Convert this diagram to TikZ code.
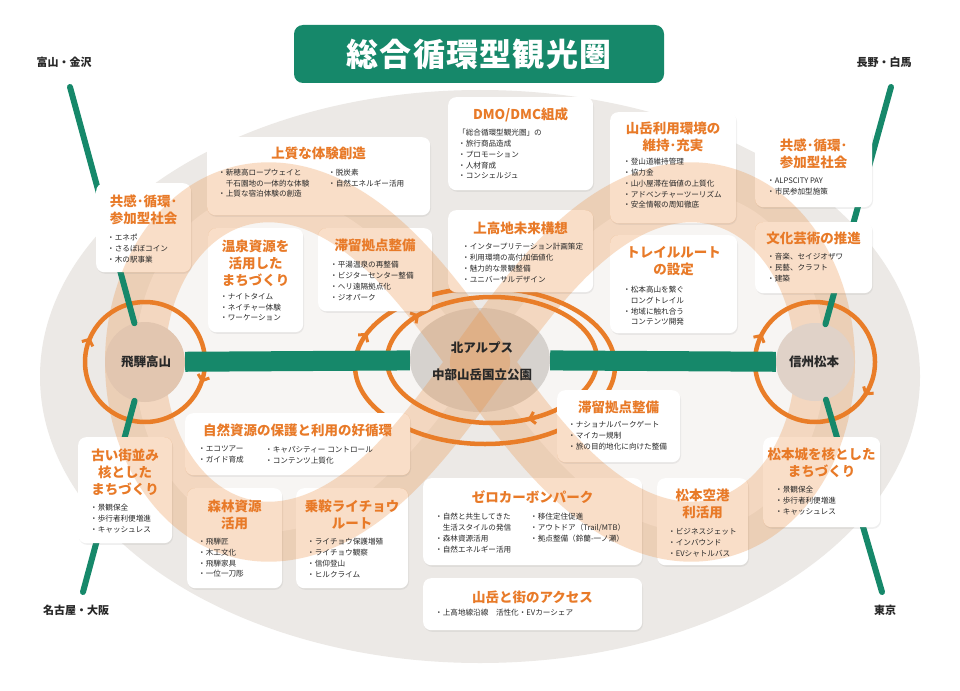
\documentclass[tikz,border=0pt]{standalone}
\usepackage{fontspec}
\setmainfont{Noto Sans CJK JP}
\usetikzlibrary{shapes.geometric,arrows.meta,shadows}
\definecolor{bggray}{RGB}{236,233,230}
\definecolor{innerc}{RGB}{247,245,243}
\definecolor{orng}{RGB}{233,125,40}
\definecolor{bandc}{RGB}{235,140,60}
\definecolor{ttl}{RGB}{232,122,40}
\definecolor{grn}{RGB}{22,136,106}
\definecolor{txt}{RGB}{40,40,40}
\definecolor{diskL}{RGB}{226,198,176}
\definecolor{diskR}{RGB}{224,210,200}
\definecolor{diskC}{RGB}{214,210,206}
\newcommand{\infobox}[5]{\node[infobox, minimum width={#4-#2}, minimum height={#5-#3}] (#1) at (#2,#3) {};}
\newcommand{\btxt}[4]{\node[body] (#1) at (#2,#3) {#4};}
\newcommand{\ttxt}[4]{\node[ttlnode] (#1) at (#2,#3) {#4};}
\newcommand{\boxclip}[1]{(#1.north west) rectangle (#1.south east)}
\begin{document}
\begin{tikzpicture}[x=1pt,y=-1pt,
  declare function={lx(\t)=480+345*cos(\t)/(1+sin(\t)*sin(\t)); ly(\t)=362+480*sin(\t)*cos(\t)/(1+sin(\t)*sin(\t));},
  infobox/.style={draw=none, fill=white, rounded corners=8pt, inner sep=0pt, anchor=north west,
    drop shadow={opacity=0.12, shadow xshift=0.8pt, shadow yshift=-1.6pt}},
  ttlnode/.style={text=ttl, font=\fontsize{13.5}{17}\selectfont\bfseries, align=center, inner sep=0pt},
  body/.style={text=txt, font=\fontsize{7.6}{10.8}\selectfont, align=left, inner sep=0pt, anchor=north west},
  place/.style={text=txt, font=\fontsize{11}{13}\selectfont\bfseries, inner sep=0pt},
  hub/.style={text=txt, font=\fontsize{12.5}{14}\selectfont\bfseries, inner sep=0pt},
  bandline/.style={draw=bandc, line width=60pt, draw opacity=0.28, line join=round},
  ring/.style={draw=orng, line width=4.5pt},
  ringarr/.style={draw=orng, line width=3pt, -{Straight Barb[length=5pt,width=12pt]}},
  gline/.style={draw=grn, line width=6pt, line cap=round},
  gbar/.style={draw=grn, line width=20pt}
]
\useasboundingbox (0,0) rectangle (960,690);
\fill[white] (0,0) rectangle (960,690);
% background
\fill[bggray] (480,376.5) ellipse[x radius=440, y radius=286.5];
\fill[innerc] plot[domain=-90:270, samples=361, smooth] ({lx(\x)},{ly(\x)}) -- cycle;
% centre disk
\node[ellipse, fill=diskC, minimum width=140, minimum height=104, inner sep=0pt] (alps) at (480,360) {};
% band (figure eight)
\draw[bandline] plot[domain=-90:90, samples=181, smooth] ({lx(\x)},{ly(\x)}) -- cycle;
\draw[bandline] plot[domain=90:270, samples=181, smooth] ({lx(\x)},{ly(\x)}) -- cycle;
% side disks
\node[circle, fill=diskL, minimum size=80, inner sep=0pt] (hida) at (145,362) {};
\node[circle, fill=diskR, minimum size=78, inner sep=0pt] (shinshu) at (815,362) {};
% rings
\draw[ring] (hida.center) circle[radius=60];
\draw[ringarr] (hida.center) ++(186:60) arc[start angle=186, end angle=204, radius=60];
\draw[ringarr] (hida.center) ++(2:60) arc[start angle=2, end angle=20, radius=60];
\draw[ring] (shinshu.center) circle[radius=60];
\draw[ringarr] (shinshu.center) ++(190:60) arc[start angle=190, end angle=208, radius=60];
\draw[ringarr] (shinshu.center) ++(16:60) arc[start angle=16, end angle=34, radius=60];
\coordinate (cin) at (492,360);
\coordinate (cout) at (485,366);
\draw[ring] (cin) ellipse[x radius=105, y radius=63];
\draw[ring] (cout) ellipse[x radius=130, y radius=78];
\draw[ringarr] (cin) ++(208:105 and 63) arc[start angle=208, end angle=226, x radius=105, y radius=63];
\draw[ringarr] (cin) ++(52:105 and 63) arc[start angle=52, end angle=70, x radius=105, y radius=63];
\draw[ringarr] (cout) ++(190:130 and 78) arc[start angle=190, end angle=205, x radius=130, y radius=78];
% green lines
\coordinate (tlEnd) at (70,87);
\coordinate (trEnd) at (891,87);
\coordinate (blEnd) at (83,592);
\coordinate (brEnd) at (882,592);
\draw[gline] (tlEnd) -- (hida);
\draw[gline] (blEnd) -- (hida);
\draw[gline] (trEnd) -- (shinshu);
\draw[gline] (brEnd) -- (shinshu);
\draw[gbar] (hida) -- (alps);
\draw[gbar] (alps) -- (shinshu);
% title
\node[fill=grn, rounded corners=9pt, minimum width=370, minimum height=58, inner sep=0pt, text=white,
  font=\fontsize{32}{34}\selectfont\bfseries\addfontfeature{LetterSpace=4}] (title) at (479,54) {総合循環型観光圏};
% boxes
\infobox{bTaiken}{207}{137}{430}{215}
\infobox{bKyoL}{96}{183}{191}{272}
\infobox{bOnsen}{208}{228}{303}{332}
\infobox{bTaiU}{318}{228}{432}{311}
\infobox{bDMO}{448}{97}{593}{190}
\infobox{bSangaku}{610}{112}{736}{223}
\infobox{bKami}{448}{210}{593}{292}
\infobox{bTrail}{610}{235}{737}{333}
\infobox{bKyoR}{755}{127}{872}{207}
\infobox{bBunka}{755}{222}{872}{293}
\infobox{bShizen}{185}{413}{410}{475}
\infobox{bFurui}{78}{437}{172}{543}
\infobox{bShinrin}{187}{488}{282}{588}
\infobox{bNorikura}{296}{488}{408}{588}
\infobox{bTaiL}{557}{390}{680}{462}
\infobox{bZero}{423}{478}{642}{565}
\infobox{bAccess}{423}{578}{642}{630}
\infobox{bKuko}{657}{478}{748}{565}
\infobox{bMatsu}{763}{437}{880}{527}
% band tint over boxes
\begin{scope}
\clip[rounded corners=8pt] \boxclip{bTaiken} \boxclip{bKyoL} \boxclip{bOnsen} \boxclip{bTaiU}
  \boxclip{bDMO} \boxclip{bSangaku} \boxclip{bKami} \boxclip{bTrail} \boxclip{bKyoR}
  \boxclip{bBunka} \boxclip{bShizen} \boxclip{bFurui} \boxclip{bShinrin} \boxclip{bNorikura}
  \boxclip{bTaiL} \boxclip{bZero} \boxclip{bAccess} \boxclip{bKuko} \boxclip{bMatsu};
\draw[bandline] plot[domain=-90:90, samples=181, smooth] ({lx(\x)},{ly(\x)}) -- cycle;
\draw[bandline] plot[domain=90:270, samples=181, smooth] ({lx(\x)},{ly(\x)}) -- cycle;
\end{scope}
% hub texts
\node[hub] (hidaT) at (146,362) {飛騨高山};
\node[hub] (shinshuT) at (814,362) {信州松本};
\node[hub] (alpsT1) at (482,348) {北アルプス};
\node[hub] (alpsT2) at (482,375) {中部山岳国立公園};
% place labels
\node[place] (lblTL) at (64,62) {富山・金沢};
\node[place] (lblTR) at (884,62) {長野・白馬};
\node[place] (lblBL) at (76,610) {名古屋・大阪};
\node[place] (lblBR) at (885,610) {東京};
% box texts
\ttxt{tTaiken}{318.5}{153}{上質な体験創造}
\btxt{dTaikenA}{218}{168.7}{・新穂高ロープウェイと\\\hspace*{1em}千石園地の一体的な体験\\・上質な宿泊体験の創造}
\btxt{dTaikenB}{328}{168.7}{・脱炭素\\・自然エネルギー活用}
\ttxt{tKyoL}{143.5}{210}{共感･循環･\\参加型社会}
\btxt{dKyoL}{107}{234}{・エネポ\\・さるぼぼコイン\\・木の駅事業}
\ttxt{tOnsen}{255.5}{263}{温泉資源を\\活用した\\まちづくり}
\btxt{dOnsen}{220}{293}{・ナイトタイム\\・ネイチャー体験\\・ワーケーション}
\ttxt{tTaiU}{375}{245}{滞留拠点整備}
\btxt{dTaiU}{330}{261}{・平湯温泉の再整備\\・ビジターセンター整備\\・ヘリ遠隔拠点化\\・ジオパーク}
\ttxt{tDMO}{520.5}{115}{DMO/DMC組成}
\btxt{dDMO}{458}{129}{「総合循環型観光圏」の\\・旅行商品造成\\・プロモーション\\・人材育成\\・コンシェルジュ}
\ttxt{tSangaku}{673}{136.5}{山岳利用環境の\\維持･充実}
\btxt{dSangaku}{623}{158}{・登山道維持管理\\・協力金\\・山小屋滞在価値の上質化\\・アドベンチャーツーリズム\\・安全情報の周知徹底}
\ttxt{tKami}{520.5}{228}{上高地未来構想}
\btxt{dKami}{462}{243}{・インタープリテーション計画策定\\・利用環境の高付加価値化\\・魅力的な景観整備\\・ユニバーサルデザイン}
\ttxt{tTrail}{673.5}{261.5}{トレイルルート\\の設定}
\btxt{dTrail}{623}{286}{・松本高山を繋ぐ\\\hspace*{1em}ロングトレイル\\・地域に触れ合う\\\hspace*{1em}コンテンツ開発}
\ttxt{tKyoR}{813.5}{153.5}{共感･循環･\\参加型社会}
\btxt{dKyoR}{767}{178}{・ALPSCITY PAY\\・市民参加型施策}
\ttxt{tBunka}{813.5}{238}{文化芸術の推進}
\btxt{dBunka}{767}{253}{・音楽、セイジオザワ\\・民藝、クラフト\\・建築}
\ttxt{tShizen}{297.5}{430}{自然資源の保護と利用の好循環}
\btxt{dShizenA}{198}{446}{・エコツアー\\・ガイド育成}
\btxt{dShizenB}{265}{446}{・キャパシティー コントロール\\・コンテンツ上質化}
\ttxt{tFurui}{125}{472}{古い街並み\\核とした\\まちづくり}
\btxt{dFurui}{90}{504}{・景観保全\\・歩行者利便増進\\・キャッシュレス}
\ttxt{tShinrin}{234.5}{515}{森林資源\\活用}
\btxt{dShinrin}{198}{538}{・飛騨匠\\・木工文化\\・飛騨家具\\・一位一刀彫}
\ttxt{tNorikura}{352}{515}{乗鞍ライチョウ\\ルート}
\btxt{dNorikura}{307}{538}{・ライチョウ保護増殖\\・ライチョウ観察\\・信仰登山\\・ヒルクライム}
\ttxt{tTaiL}{618.5}{407}{滞留拠点整備}
\btxt{dTaiL}{568}{421}{・ナショナルパークゲート\\・マイカー規制\\・旅の目的地化に向けた整備}
\ttxt{tZero}{532.5}{497}{ゼロカーボンパーク}
\btxt{dZeroA}{435}{513}{・自然と共生してきた\\\hspace*{1em}生活スタイルの発信\\・森林資源活用\\・自然エネルギー活用}
\btxt{dZeroB}{530}{513}{・移住定住促進\\・アウトドア（Trail/MTB）\\・拠点整備（鈴蘭-一ノ瀬）}
\ttxt{tAccess}{532.5}{597}{山岳と街のアクセス}
\btxt{dAccess}{435}{609}{・上高地線沿線　活性化・EVカーシェア}
\ttxt{tKuko}{702.5}{503.5}{松本空港\\利活用}
\btxt{dKuko}{668}{528}{・ビジネスジェット\\・インバウンド\\・EVシャトルバス}
\ttxt{tMatsu}{821.5}{462.5}{松本城を核とした\\まちづくり}
\btxt{dMatsu}{775}{486}{・景観保全\\・歩行者利便増進\\・キャッシュレス}
\end{tikzpicture}
\end{document}
